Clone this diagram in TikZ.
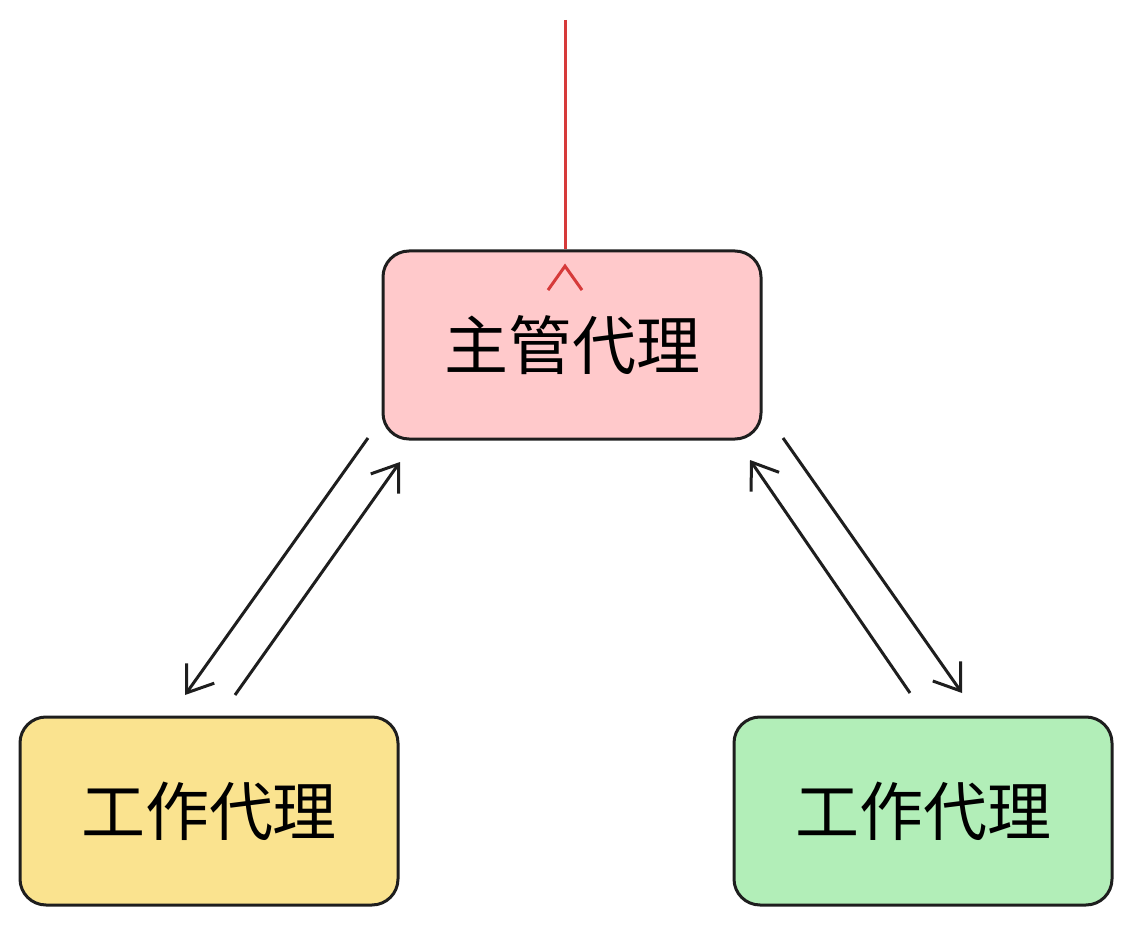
\documentclass[tikz,border=0pt]{standalone}
\usepackage{fontspec}
\newfontfamily\cjk{Noto Sans CJK SC}
\usetikzlibrary{arrows.meta}
\definecolor{pinkf}{HTML}{FFC9CB}
\definecolor{yelf}{HTML}{FAE38F}
\definecolor{grnf}{HTML}{B2EEB8}
\definecolor{redl}{HTML}{D63A3A}
\definecolor{ink}{HTML}{1E1E1E}
\begin{document}
\begin{tikzpicture}[x=1pt,y=-1pt,
  box/.style={draw=ink,line width=3pt,rounded corners=26pt,minimum width=378pt,minimum height=188pt,font=\cjk\fontsize{64}{70}\selectfont,inner sep=0pt},
  arr/.style={draw=ink,line width=3pt,-{Straight Barb[length=24pt,width=34pt,line width=3pt]}}]
\useasboundingbox (0,0) rectangle (1133,928);
\node[box,fill=pinkf] (m) at (572,345) {主管代理};
\node[box,fill=yelf] (l) at (209,811) {工作代理};
\node[box,fill=grnf] (r) at (923,811) {工作代理};
\coordinate (s) at (565,20);
\draw[arr,draw=redl] (s) -- (m.north -| s) ++(0,-14pt);
\coordinate (a1) at (368,438); \coordinate (a2) at (185,695);
\coordinate (b1) at (235,695); \coordinate (b2) at (400,462);
\coordinate (c1) at (910,693); \coordinate (c2) at (750,460);
\coordinate (d1) at (783,438); \coordinate (d2) at (962,693);
\draw[arr] (a1) -- (a2);
\draw[arr] (b1) -- (b2);
\draw[arr] (c1) -- (c2);
\draw[arr] (d1) -- (d2);
\end{tikzpicture}
\end{document}
